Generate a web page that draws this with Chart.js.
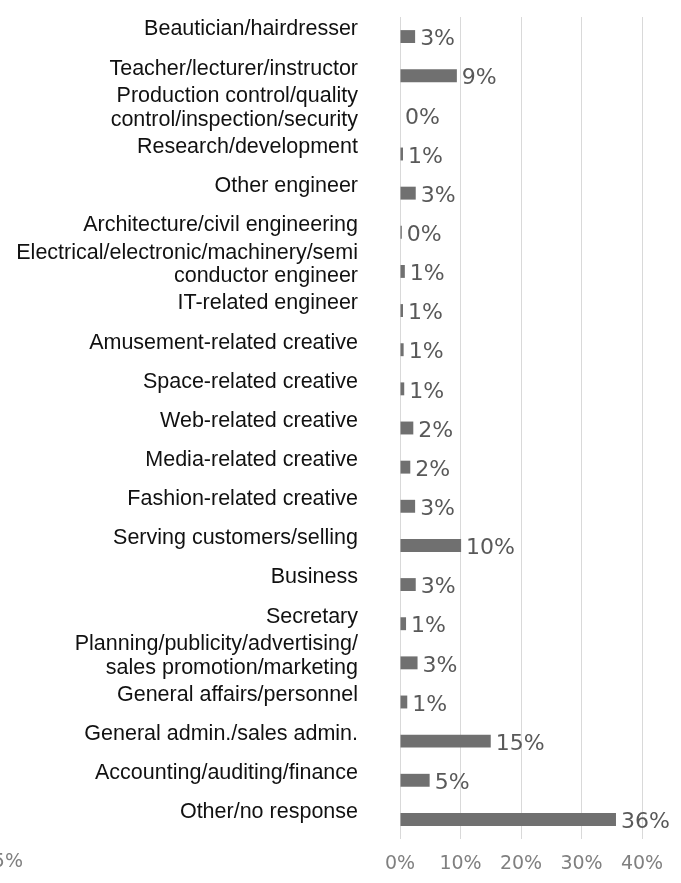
<!DOCTYPE html>
<html>
<head>
<meta charset="utf-8">
<title>Occupation breakdown</title>
<script src="https://cdn.jsdelivr.net/npm/chart.js@4.4.0/dist/chart.umd.min.js"></script>
<style>
    html, body { margin: 0; padding: 0; background: #ffffff; }
    #wrap { position: relative; width: 681px; height: 883px; }
</style>
</head>
<body>
<div id="wrap"><canvas id="chartOccupation"></canvas></div>
<script>
// Occupations, top to bottom
const categories = [
    'Beautician/hairdresser',
    'Teacher/lecturer/instructor',
    ['Production control/quality', 'control/inspection/security'],
    'Research/development',
    'Other engineer',
    'Architecture/civil engineering',
    ['Electrical/electronic/machinery/semi', 'conductor engineer'],
    'IT-related engineer',
    'Amusement-related creative',
    'Space-related creative',
    'Web-related creative',
    'Media-related creative',
    'Fashion-related creative',
    'Serving customers/selling',
    'Business',
    'Secretary',
    ['Planning/publicity/advertising/', 'sales promotion/marketing'],
    'General affairs/personnel',
    'General admin./sales admin.',
    'Accounting/auditing/finance',
    'Other/no response'
];

// Share of respondents (%)
const shares = [2.5, 9.4, 0, 0.5, 2.6, 0.3, 0.8, 0.5, 0.6, 0.7,
                2.2, 1.7, 2.5, 10.1, 2.6, 1.0, 2.9, 1.2, 15.0, 4.9, 35.7];

// Axis ticks (%)
const xTicks = [0, 10, 20, 30, 40];

const colors = {
    bar: '#707070',
    value: '#595959',
    tick: '#808080',
    grid: '#d9d9d9',
    label: '#111111'
};

// Percent label just past the end of each bar
const valueLabels = {
    id: 'valueLabels',
    afterDatasetsDraw(chart) {
        const ctx = chart.ctx;
        const meta = chart.getDatasetMeta(0);
        ctx.save();
        ctx.font = '22px "DejaVu Sans"';
        ctx.fillStyle = colors.value;
        ctx.textAlign = 'left';
        ctx.textBaseline = 'middle';
        meta.data.forEach((bar, i) => {
            ctx.fillText(Math.round(shares[i]) + '%', bar.x + 5, bar.y + 3);
        });
        ctx.restore();
    }
};

// Tick fragment left over at the bottom-left corner
const edgeTick = {
    id: 'edgeTick',
    afterDraw(chart) {
        const ctx = chart.ctx;
        ctx.save();
        ctx.font = '19px "DejaVu Sans"';
        ctx.fillStyle = colors.tick;
        ctx.textAlign = 'right';
        ctx.textBaseline = 'middle';
        ctx.fillText('5%', 23, 862);
        ctx.restore();
    }
};

const ctxOcc = document.getElementById('chartOccupation');
new Chart(ctxOcc, {
    type: 'bar',
    data: {
        labels: categories,
        datasets: [{
            data: shares,
            backgroundColor: colors.bar,
            borderWidth: 0,
            barPercentage: 0.33,
            categoryPercentage: 1
        }]
    },
    options: {
        indexAxis: 'y',
        responsive: true,
        maintainAspectRatio: false,
        animation: false,
        layout: {
            padding: { top: 17, right: 39, left: 0, bottom: 0 }
        },
        scales: {
            x: {
                min: 0,
                max: 40,
                afterBuildTicks: (scale) => {
                    scale.ticks = xTicks.map(v => ({ value: v }));
                },
                afterFit: (scale) => {
                    scale.height = 44;
                    scale.paddingLeft = 0;
                    scale.paddingRight = 0;
                },
                ticks: {
                    callback: (v) => v + '%',
                    color: colors.tick,
                    padding: 14,
                    maxRotation: 0,
                    font: { family: '"DejaVu Sans"', size: 19 }
                },
                grid: {
                    color: colors.grid,
                    lineWidth: 1,
                    drawTicks: false
                },
                border: { display: false }
            },
            y: {
                afterFit: (scale) => {
                    scale.width = 400;
                    scale.paddingTop = 0;
                    scale.paddingBottom = 0;
                },
                ticks: {
                    color: colors.label,
                    padding: 42,
                    labelOffset: -7,
                    autoSkip: false,
                    font: { family: '"Liberation Sans", Arial, sans-serif', size: 21.5, lineHeight: 1.1 }
                },
                grid: { display: false, drawTicks: false },
                border: { display: false }
            }
        },
        plugins: {
            legend: { display: false },
            tooltip: { enabled: false }
        }
    },
    plugins: [valueLabels, edgeTick]
});
</script>
</body>
</html>
